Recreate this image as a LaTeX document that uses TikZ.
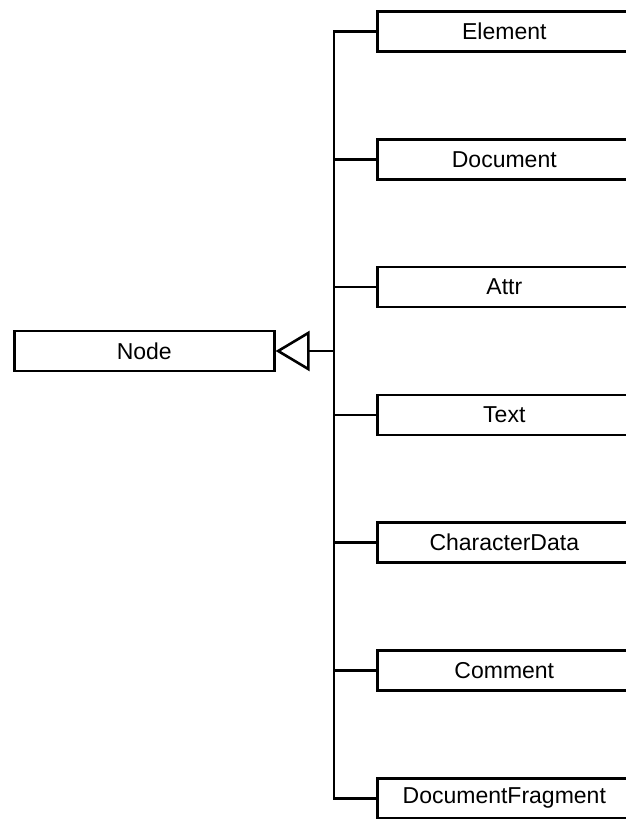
\documentclass[tikz,border=0pt]{standalone}
\usepackage{fontspec}
\setmainfont{Liberation Sans}
\usetikzlibrary{arrows.meta,positioning}

\begin{document}
\begin{tikzpicture}[
  x=1pt, y=-1pt,
  font=\fontsize{23}{27}\selectfont,
  cls/.style={draw, line width=2.6pt, minimum height=40pt, inner sep=0pt, anchor=west},
  base/.style={cls, minimum width=260pt},
  sub/.style={cls, minimum width=254pt},
  link/.style={line width=2.6pt},
  inherit/.style={link, -{Triangle[open, length=34pt, width=40pt, line width=2.6pt]}}
]
\useasboundingbox (0,0) rectangle (626,819);
\clip (0,0) rectangle (626,819);

%% ---- base class -----------------------------------------------------------
\node[base] (node) at (13,351) {Node};
\coordinate (trunk) at (334,351);

%% ---- subclasses, one row every 127.8 units ---------------------------------
\foreach \name/\lbl [count=\i from 0] in {element/Element, document/Document,
    attr/Attr, text/Text, chardata/CharacterData, comment/Comment,
    fragment/DocumentFragment}
  \node[sub] (\name) at (376,31.5+127.8*\i) {\lbl};

%% the trunk turns into the first and the last row
\draw[link] (element.west) -| (trunk) |- (fragment.west);
\foreach \name in {document,attr,text,chardata,comment}
  \draw[link] (trunk |- \name.west) -- (\name.west);

\draw[inherit] (trunk) -- (node.east);
\end{tikzpicture}
\end{document}
